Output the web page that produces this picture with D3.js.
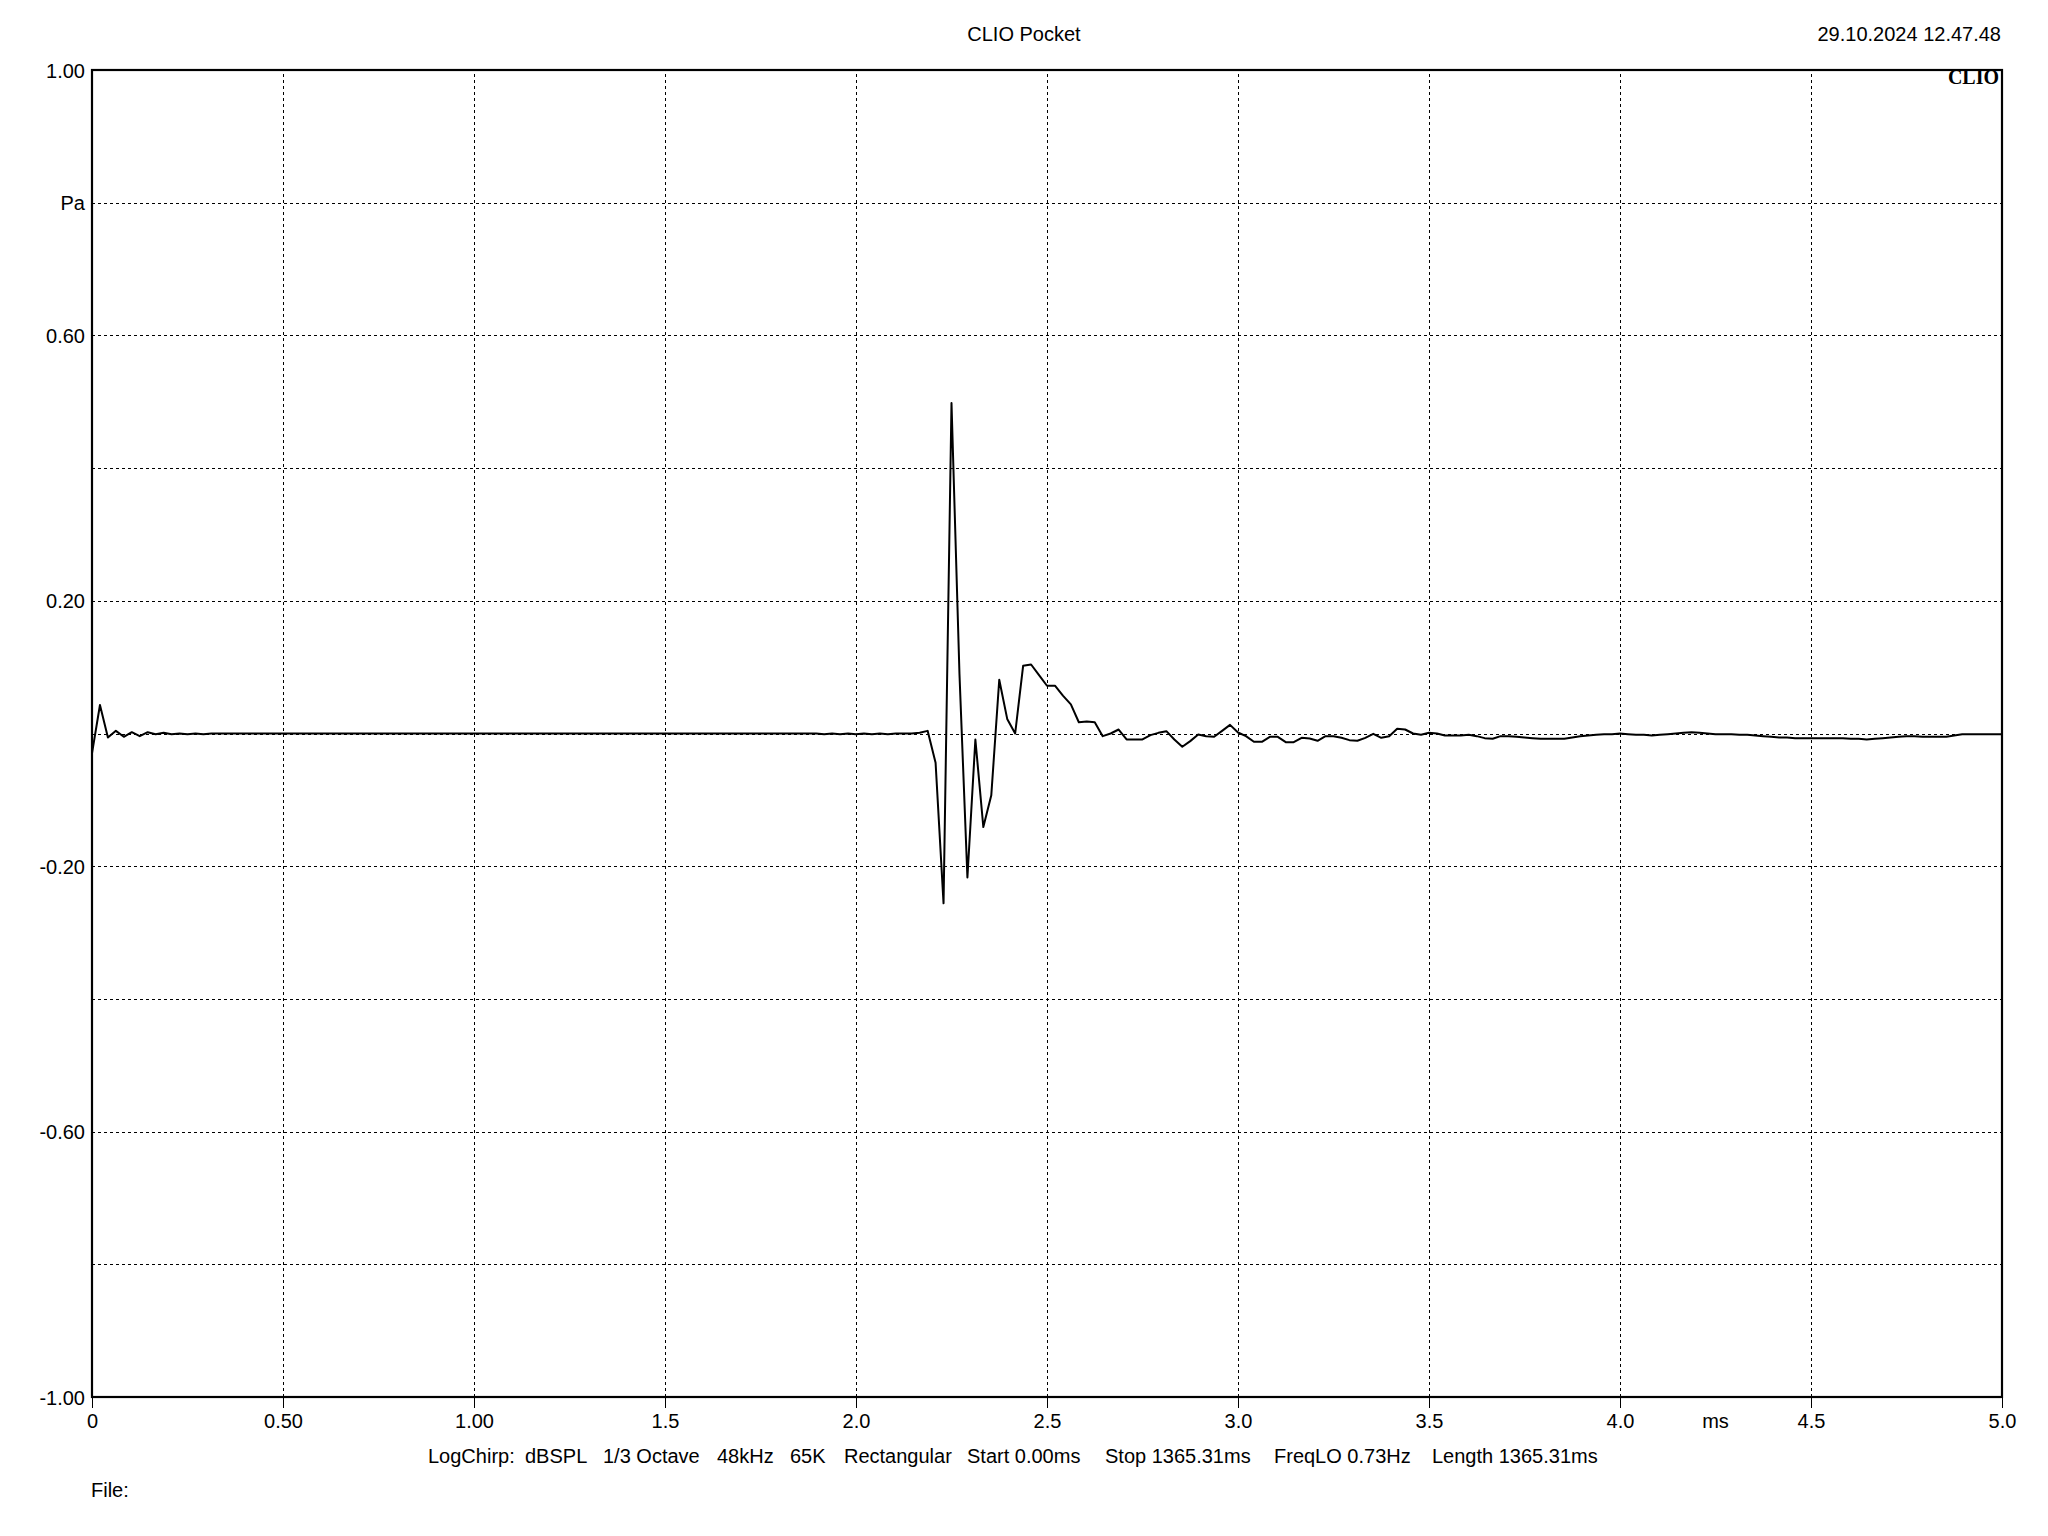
<!DOCTYPE html>
<html><head><meta charset="utf-8">
<script src="https://cdn.jsdelivr.net/npm/d3@7"></script>
<style>
body{margin:0;background:#fff}
svg text{font-family:"Liberation Sans",Arial,sans-serif;fill:#000}
</style>
</head><body><svg id="c" width="2048" height="1536"></svg>
<script>
// ---------- data ----------
const title = "CLIO Pocket";
const dateStamp = "29.10.2024 12.47.48";
const logoText = "CLIO";
const xTickValues = [0, 0.5, 1, 1.5, 2, 2.5, 3, 3.5, 4, 4.5, 5];
const xTickLabels = ["0", "0.50", "1.00", "1.5", "2.0", "2.5", "3.0", "3.5", "4.0", "4.5", "5.0"];
const xUnitLabel = "ms";
const xUnitAt = 4.25;
const xGridValues = [0.5, 1, 1.5, 2, 2.5, 3, 3.5, 4, 4.5];
const yGridValues = [-0.8, -0.6, -0.4, -0.2, 0, 0.2, 0.4, 0.6, 0.8];
const yTickValues = [1, 0.8, 0.6, 0.2, -0.2, -0.6, -1];
const yTickLabels = ["1.00", "Pa", "0.60", "0.20", "-0.20", "-0.60", "-1.00"];
const infoItems = ["LogChirp:", "dBSPL", "1/3 Octave", "48kHz", "65K", "Rectangular",
                   "Start 0.00ms", "Stop 1365.31ms", "FreqLO 0.73Hz", "Length 1365.31ms"];
const fileLabel = "File:";
const sampleRateKHz = 48;           // samples per ms
// impulse response, Pa, one value per sample (0 .. 5 ms)
const pressure = [
  -0.03, 0.043, -0.006, 0.004, -0.005, 0.002, -0.004, 0.002, -0.001, 0.001, -0.001, 0, -0.001, 0, -0.001, 0,
  0, 0, 0, 0, 0, 0, 0, 0, 0, 0, 0, 0, 0, 0, 0, 0, 0, 0, 0,
  0, 0, 0, 0, 0, 0, 0, 0, 0, 0, 0, 0, 0, 0, 0, 0, 0, 0, 0,
  0, 0, 0, 0, 0, 0, 0, 0, 0, 0, 0, 0, 0, 0, 0, 0, 0, 0, 0,
  0, 0, 0, 0, 0, 0, 0, 0, 0, 0, 0, 0, 0, 0, 0, 0, 0, 0, 0,
  -0.001, 0, -0.001, 0, -0.001, 0, -0.001, 0, -0.001, 0, 0, 0, 0.001,
  0.004, -0.044, -0.256, 0.498, 0.09, -0.217, -0.009, -0.141, -0.093, 0.081,
  0.022, 0, 0.102, 0.104, 0.088, 0.072, 0.072, 0.057, 0.044, 0.017,
  0.018, 0.017, -0.004, 0, 0.006, -0.009, -0.009, -0.009, -0.0025, 0.001,
  0.0035, -0.009, -0.020, -0.0115, -0.0015, -0.004, -0.005, 0.004, 0.013, 0.0015,
  -0.004, -0.0125, -0.0125, -0.005, -0.005, -0.013, -0.013, -0.0065, -0.0075, -0.011,
  -0.004, -0.004, -0.0065, -0.010, -0.011, -0.0065, -0.0005, -0.0065, -0.004,
  0.007, 0.006, 0, -0.002, 0.001, 0, -0.003, -0.003, -0.003, -0.002,
  -0.004, -0.007, -0.008, -0.004, -0.004, -0.005, -0.006, -0.007, -0.008, -0.008,
  -0.008, -0.008, -0.006, -0.004, -0.003, -0.002, -0.001, -0.001, 0, -0.001,
  -0.002, -0.002, -0.003, -0.002, -0.001, 0, 0.001, 0.002, 0.001, 0,
  -0.001, -0.001, -0.001, -0.002, -0.002, -0.003, -0.004, -0.005, -0.006, -0.006,
  -0.007, -0.007, -0.007, -0.007, -0.007, -0.007, -0.007, -0.008, -0.008, -0.009,
  -0.008, -0.007, -0.006, -0.005, -0.004, -0.004, -0.005, -0.005, -0.005, -0.005,
  -0.003, -0.001, -0.001, -0.001, -0.001, -0.001, -0.001
];

// ---------- layout ----------
const L = 92, R = 2002, T = 70, B = 1397;
const infoX = [428, 525, 603, 717, 790, 844, 967, 1105, 1274, 1432];
const fs = 20;

const svg = d3.select("#c");
svg.append("rect").attr("width", 2048).attr("height", 1536).attr("fill", "#fff");

const x = d3.scaleLinear().domain([0, 5]).range([L, R]);
const y = d3.scaleLinear().domain([-1, 1]).range([B, T]);

// grid (dashed)
const gx = svg.append("g").attr("transform", `translate(0,${B})`)
  .call(d3.axisBottom(x).tickValues(xGridValues).tickSize(-(B - T)).tickFormat(""));
gx.select(".domain").remove();
gx.selectAll("line").attr("stroke", "#000").attr("stroke-width", 1).attr("stroke-dasharray", "3,3")
  .attr("shape-rendering", "crispEdges");

const gy = svg.append("g").attr("transform", `translate(${L},0)`)
  .call(d3.axisLeft(y).tickValues(yGridValues).tickSize(-(R - L)).tickFormat(""));
gy.select(".domain").remove();
gy.selectAll("line").attr("stroke", "#000").attr("stroke-width", 1).attr("stroke-dasharray", "3,3")
  .attr("shape-rendering", "crispEdges");

// bottom axis: ticks below + labels
const ax = svg.append("g").attr("transform", `translate(0,${B})`)
  .call(d3.axisBottom(x).tickValues(xTickValues).tickSize(11).tickPadding(8)
    .tickFormat((d, i) => xTickLabels[i]));
ax.select(".domain").remove();
ax.selectAll("line").attr("stroke", "#000").attr("stroke-width", 1.3).attr("shape-rendering", "crispEdges");
ax.selectAll("text").attr("font-size", fs).attr("font-family", "Liberation Sans, Arial, sans-serif")
  .attr("dy", null).attr("y", 31);

svg.append("text").attr("x", x(xUnitAt)).attr("y", B + 31).attr("text-anchor", "middle")
  .attr("font-size", fs).text(xUnitLabel);

// left axis labels
const ay = svg.append("g").attr("transform", `translate(${L},0)`)
  .call(d3.axisLeft(y).tickValues(yTickValues).tickSize(0).tickPadding(7)
    .tickFormat((d, i) => yTickLabels[i]));
ay.select(".domain").remove();
ay.selectAll("text").attr("font-size", fs).attr("font-family", "Liberation Sans, Arial, sans-serif")
  .attr("dy", "0.35em");

// trace
const line = d3.line()
  .x((d, i) => x(i / sampleRateKHz))
  .y(d => y(d));
svg.append("path").datum(pressure).attr("d", line)
  .attr("fill", "none").attr("stroke", "#000").attr("stroke-width", 2)
  .attr("stroke-linejoin", "round");

// frame
svg.append("rect").attr("x", L).attr("y", T).attr("width", R - L).attr("height", B - T)
  .attr("fill", "none").attr("stroke", "#000").attr("stroke-width", 2.2);

// header
svg.append("text").attr("x", 1024).attr("y", 41).attr("text-anchor", "middle").attr("font-size", fs).text(title);
svg.append("text").attr("x", 2001).attr("y", 41).attr("text-anchor", "end").attr("font-size", fs).text(dateStamp);
svg.append("text").attr("x", 1999).attr("y", 84).attr("text-anchor", "end")
  .attr("font-size", 20).attr("font-weight", "bold")
  .style("font-family", "'Liberation Serif','DejaVu Serif',serif").text(logoText);

// footer
svg.selectAll("text.info").data(infoItems).join("text").attr("class", "info")
  .attr("x", (d, i) => infoX[i]).attr("y", 1463).attr("font-size", fs).text(d => d);
svg.append("text").attr("x", 91).attr("y", 1497).attr("font-size", fs).text(fileLabel);
</script>
</body></html>
